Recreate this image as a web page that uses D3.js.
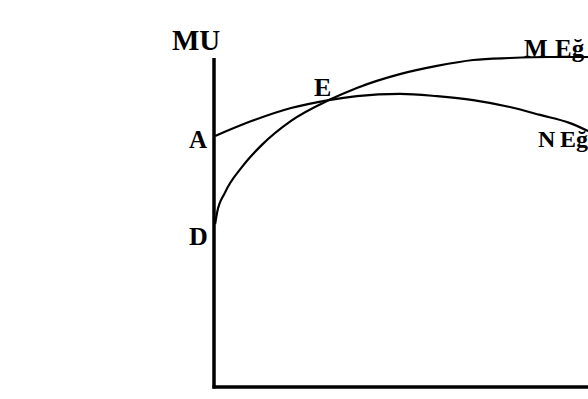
<!DOCTYPE html>
<html>
<head>
<meta charset="utf-8">
<script src="https://cdn.jsdelivr.net/npm/d3@7"></script>
<style>
  html, body { margin: 0; padding: 0; background: #fff; }
  svg { display: block; }
  .lbl { font-family: "Liberation Serif", "DejaVu Serif", serif; font-weight: bold; fill: #000; }
</style>
</head>
<body>
<svg id="chart" width="588" height="399"></svg>
<script>
// curve M (rises steeply from D, flattens at the top)
const curveM = [
  [0.3, 49.5], [0.8, 52.9], [2.9, 59.0], [7.5, 66.9], [12.8, 73.6],
  [20.6, 80.9], [30.7, 87.2], [38.2, 90.9], [49.7, 95.1], [59.6, 97.6],
  [69.3, 99.4], [79.1, 100.0], [89.8, 100.3], [100, 100.3]
];
// curve N (starts at A, peaks, then falls)
const curveN = [
  [0.3, 76.3], [10.2, 80.9], [20.6, 84.8], [30.7, 87.2], [38.2, 88.4],
  [49.7, 89.1], [59.6, 88.4], [69.3, 87.2], [79.1, 85.1], [87.2, 82.7],
  [95.2, 80.2], [100, 77.8]
];
const axisLabelY = 'MU';
const pointLabels = ['A', 'D', 'E'];
const curveLabels = [['M', 'Eğ'], ['N', 'Eğ']];

const svg = d3.select('#chart');

const x = d3.scaleLinear().domain([0, 100]).range([214, 588]);
const y = d3.scaleLinear().domain([0, 100]).range([387, 58]);

// axes (no ticks, just the heavy lines)
const yAxis = svg.append('g')
  .attr('transform', `translate(${x(0)},0)`)
  .call(d3.axisLeft(y).tickValues([]).tickSizeOuter(0));
yAxis.select('.domain').attr('stroke', '#000').attr('stroke-width', 3.5)
  .attr('d', `M0,${y(100)}V${y(0) + 1.5}`);

const xAxis = svg.append('g')
  .attr('transform', `translate(0,${y(0)})`)
  .call(d3.axisBottom(x).tickValues([]).tickSizeOuter(0));
xAxis.select('.domain').attr('stroke', '#000').attr('stroke-width', 3.5)
  .attr('d', `M${x(0) - 1.5},0H${x(100) + 2}`);

const line = d3.line()
  .x(d => x(d[0]))
  .y(d => y(d[1]))
  .curve(d3.curveMonotoneX);

[curveM, curveN].forEach(c => {
  svg.append('path')
    .datum(c)
    .attr('d', line)
    .attr('fill', 'none')
    .attr('stroke', '#000')
    .attr('stroke-width', 2.2);
});

// labels
svg.append('text').attr('class', 'lbl')
  .attr('x', 172).attr('y', 50)
  .attr('font-size', 29)
  .text(axisLabelY);

svg.append('text').attr('class', 'lbl')
  .attr('x', 189).attr('y', 148).attr('font-size', 25)
  .text(pointLabels[0]);
svg.append('text').attr('class', 'lbl')
  .attr('x', 189).attr('y', 245).attr('font-size', 26)
  .text(pointLabels[1]);
svg.append('text').attr('class', 'lbl')
  .attr('x', 314).attr('y', 96).attr('font-size', 26)
  .text(pointLabels[2]);

const mLab = svg.append('text').attr('class', 'lbl').attr('y', 57).attr('font-size', 25);
mLab.append('tspan').attr('x', 524).text(curveLabels[0][0]);
mLab.append('tspan').attr('x', 555).text(curveLabels[0][1]);

const nLab = svg.append('text').attr('class', 'lbl').attr('y', 147).attr('font-size', 24);
nLab.append('tspan').attr('x', 538).text(curveLabels[1][0]);
nLab.append('tspan').attr('x', 560).text(curveLabels[1][1]);
</script>
</body>
</html>
